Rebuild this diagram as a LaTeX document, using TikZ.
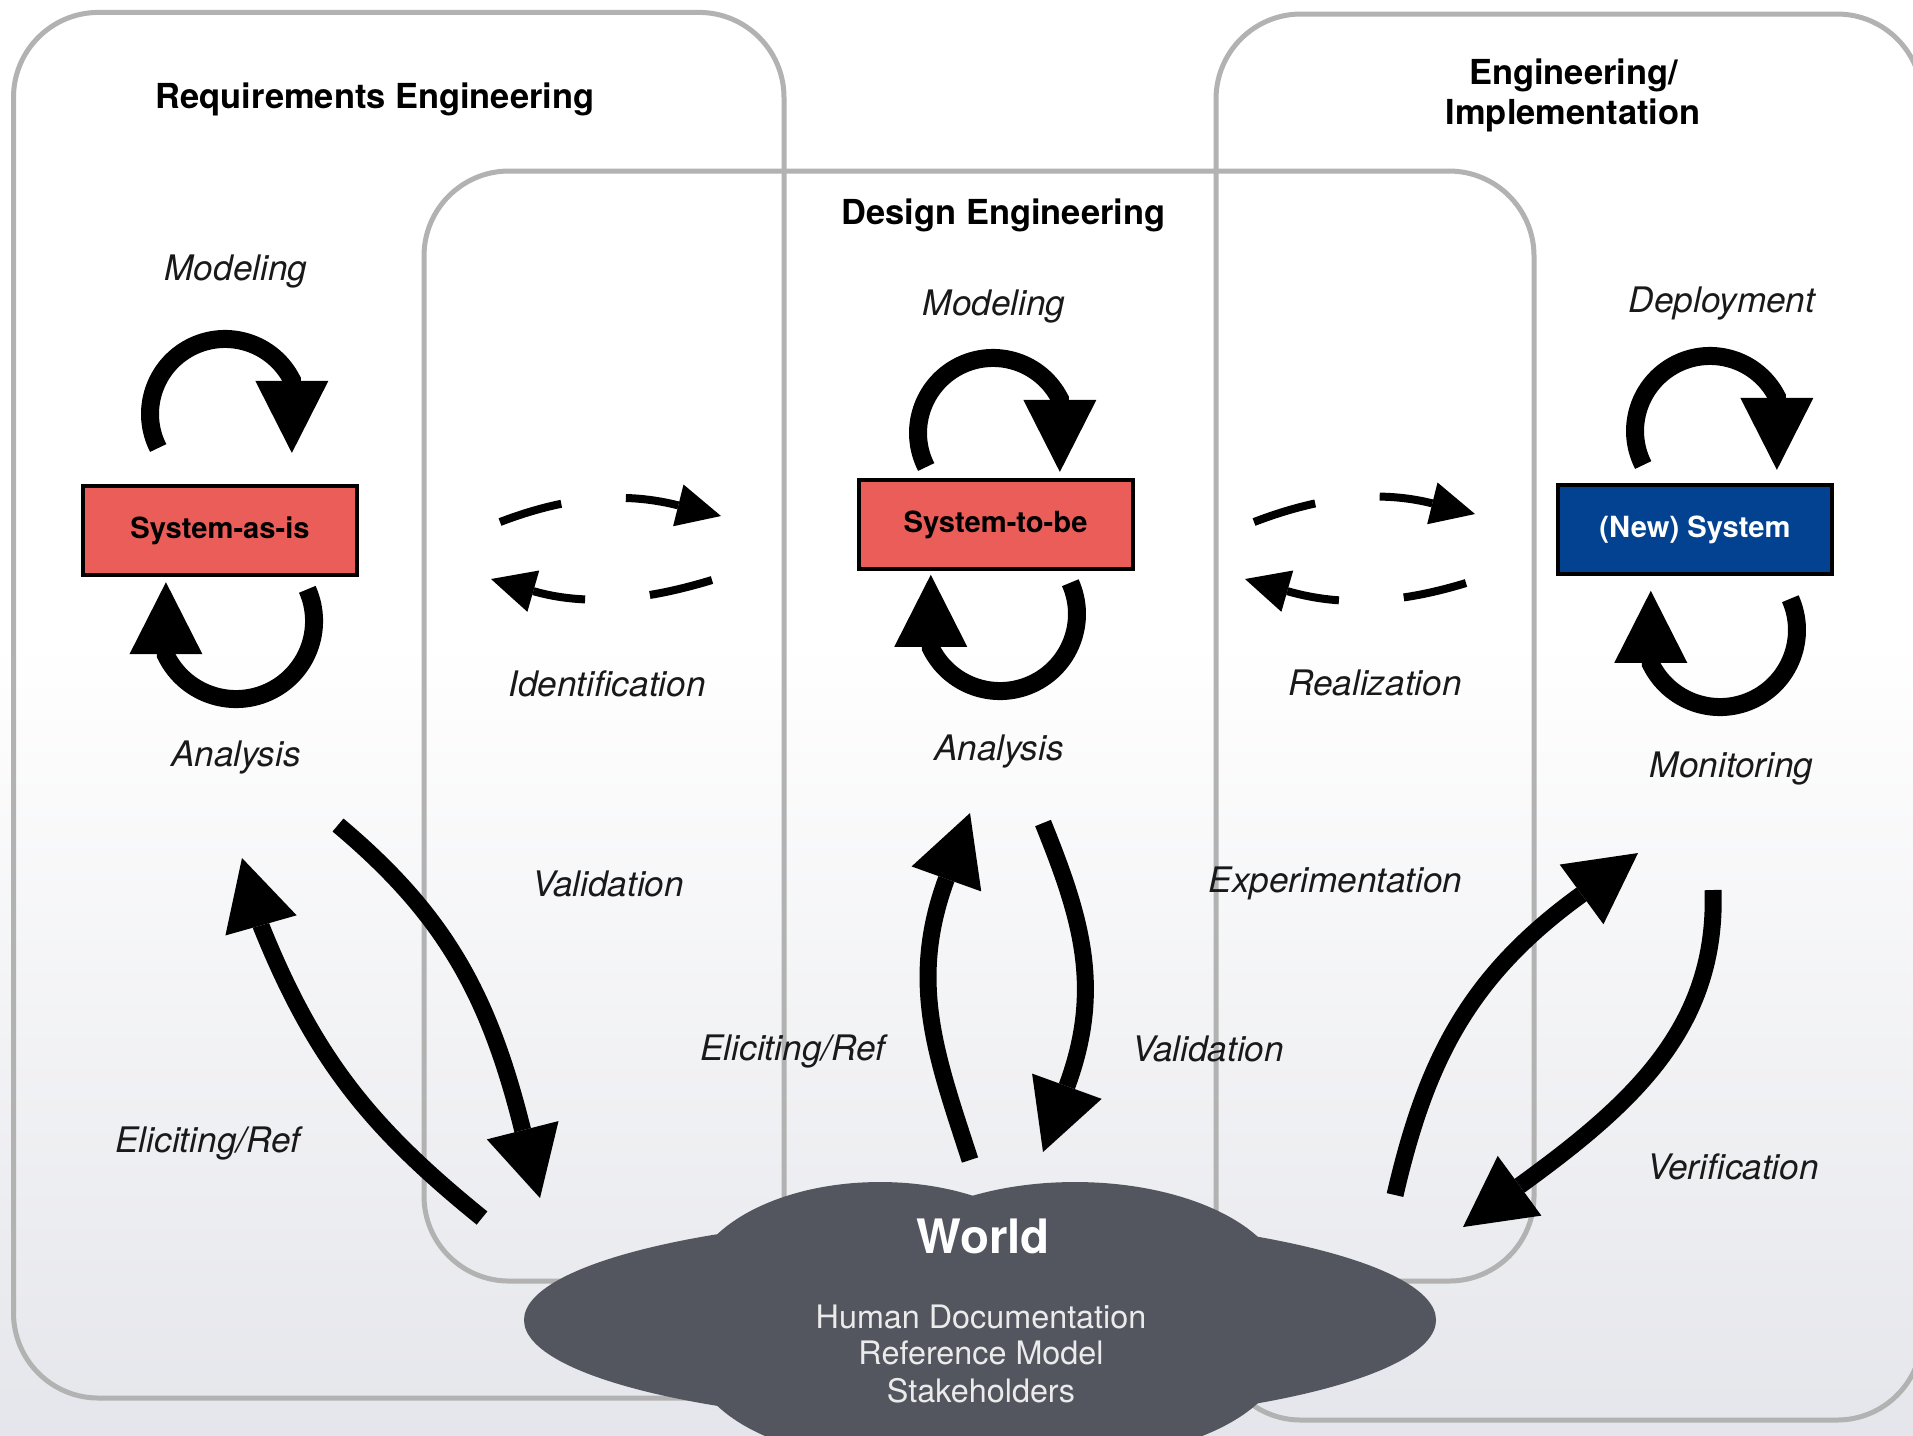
\documentclass[tikz,border=0pt]{standalone}
\usepackage{fontspec}
\setmainfont{TeX Gyre Heros}
\usetikzlibrary{arrows.meta}
\definecolor{FRAME-GRAY}{RGB}{178,178,178}
\definecolor{SYS-RED}{RGB}{234,93,89}
\definecolor{SYS-BLUE}{RGB}{2,66,145}
\definecolor{WORLD-GRAY}{RGB}{83,86,95}
\definecolor{BG-GRAY}{RGB}{229,230,235}

\begin{document}
\begin{tikzpicture}[x=0.1mm,y=0.1mm,
    phasebox/.style={draw=FRAME-GRAY,line width=0.5mm,rounded corners=8.5mm},
    phasetitle/.style={font=\bfseries\fontsize{9.8}{11.4}\selectfont,anchor=base,inner sep=0pt},
    activity/.style={font=\itshape\fontsize{10}{12}\selectfont,anchor=base,inner sep=0pt,text=black!90},
    sysbox/.style={draw=black,line width=0.4mm,minimum width=27.4mm,minimum height=8.9mm,inner sep=0pt,font=\bfseries\fontsize{8.3}{10}\selectfont},
    selfloop/.style={line width=1.8mm,-{Triangle[length=7.2mm,width=7.3mm,line width=0pt]}},
    bigarrow/.style={line width=1.7mm,-{Triangle[length=7mm,width=7.4mm,line width=0pt]}},
    dasharrow/.style={line width=0.8mm,dash pattern=on 6.4mm off 6.5mm,-{Triangle[length=4.4mm,width=4.3mm,line width=0pt]}},
    worldtext/.style={text=white!92!black,font=\fontsize{9.2}{10.7}\selectfont,anchor=base,inner sep=0pt}]

    % background
    \useasboundingbox (0,0) rectangle (1913,-1435);
    \clip (0,0) rectangle (1913,-1435);
    \fill[white] (0,0) rectangle (1913,-640);
    \shade[top color=white,bottom color=BG-GRAY] (0,-640) rectangle (1913,-1435);

    % phase frames
    \draw[phasebox] (13.5,-12.4) rectangle (784,-1398);
    \draw[phasebox] (424,-171) rectangle (1534,-1281);
    \draw[phasebox] (1216,-14) rectangle (1922,-1420);

    % phase titles
    \node[phasetitle] (reqtitle) at (375,-108) {Requirements Engineering};
    \node[phasetitle] (destitle) at (1003.5,-224) {Design Engineering};
    \node[phasetitle] (impltitle) at (1573.5,-84) {Engineering/};
    \node[phasetitle] (impltitleb) at (1573,-124) {Implementation};

    % systems
    \node[sysbox,fill=SYS-RED] (asis) at (220,-530.5) {System-as-is};
    \node[sysbox,fill=SYS-RED] (tobe) at (995.5,-524.5) {System-to-be};
    \node[sysbox,fill=SYS-BLUE,text=white] (newsys) at (1695,-529.5) {(New) System};

    % self loops
    \draw[selfloop] ([shift={(-6.18mm,8.25mm)}]asis.center) arc[start angle=207,end angle=27,radius=7.5mm] -- ++(0,-7.3mm);
    \draw[selfloop] ([shift={(8.73mm,-5.88mm)}]asis.center) arc[start angle=24,end angle=-154,radius=7.8mm] -- ++(0,7.3mm);
    \draw[selfloop] ([shift={(-6.93mm,5.75mm)}]tobe.center) arc[start angle=207,end angle=27,radius=7.5mm] -- ++(0,-7.3mm);
    \draw[selfloop] ([shift={(7.48mm,-5.82mm)}]tobe.center) arc[start angle=24,end angle=-154,radius=7.7mm] -- ++(0,7.3mm);
    \draw[selfloop] ([shift={(-5.18mm,6.45mm)}]newsys.center) arc[start angle=207,end angle=27,radius=7.5mm] -- ++(0,-7.3mm);
    \draw[selfloop] ([shift={(9.53mm,-6.92mm)}]newsys.center) arc[start angle=24,end angle=-154,radius=7.7mm] -- ++(0,7.3mm);

    % dashed hand-overs
    \coordinate (idfwdA) at (500,-522);
    \coordinate (idfwdB) at (721,-516);
    \coordinate (idbackA) at (712,-580);
    \coordinate (idbackB) at (491,-579);
    \coordinate (rlfwdA) at (1254,-522);
    \coordinate (rlfwdB) at (1475,-514);
    \coordinate (rlbackA) at (1466,-583);
    \coordinate (rlbackB) at (1245,-579);
    \draw[dasharrow] (idfwdA) to[out=21,in=166] (idfwdB);
    \draw[dasharrow] (idbackA) to[out=-163,in=-16] (idbackB);
    \draw[dasharrow] (rlfwdA) to[out=21,in=166] (rlfwdB);
    \draw[dasharrow] (rlbackA) to[out=-163,in=-16] (rlbackB);

    % world cloud
    \fill[WORLD-GRAY] (980,-1320) ellipse[x radius=45.6mm,y radius=10.5mm];
    \fill[WORLD-GRAY] (880,-1290) ellipse[x radius=19mm,y radius=10.8mm];
    \fill[WORLD-GRAY] (1075,-1290) ellipse[x radius=21mm,y radius=10.8mm];
    \fill[WORLD-GRAY] (880,-1350) ellipse[x radius=19mm,y radius=10.8mm];
    \fill[WORLD-GRAY] (1075,-1350) ellipse[x radius=21mm,y radius=10.8mm];
    \node[font=\bfseries\fontsize{13.5}{15}\selectfont,text=white,anchor=base,inner sep=0pt] (world) at (983,-1253) {World};
    \node[worldtext] (human) at (981,-1328) {Human Documentation};
    \node[worldtext] (refmodel) at (981,-1364) {Reference Model};
    \node[worldtext] (stake) at (981,-1402) {Stakeholders};

    % activities
    \node[activity] (modreq) at (236,-280) {Modeling};
    \node[activity] (anareq) at (236,-766) {Analysis};
    \node[activity] (ident) at (607,-696) {Identification};
    \node[activity] (valreq) at (608,-896) {Validation};
    \node[activity] (elireq) at (208,-1152) {Eliciting/Ref};
    \node[activity] (moddes) at (994,-315) {Modeling};
    \node[activity] (anades) at (999,-760) {Analysis};
    \node[activity] (elides) at (793,-1060) {Eliciting/Ref};
    \node[activity] (valdes) at (1208,-1061) {Validation};
    \node[activity] (realiz) at (1375,-695) {Realization};
    \node[activity] (experi) at (1335.5,-892) {Experimentation};
    \node[activity] (deploy) at (1722,-312) {Deployment};
    \node[activity] (monit) at (1731.5,-777) {Monitoring};
    \node[activity] (verif) at (1733,-1179) {Verification};

    % world arrows (curve to the tip base, then the tip)
    \coordinate (wReqA) at (482,-1218);
    \coordinate (reqInB) at (261.5,-927);
    \coordinate (reqIn) at (242,-858);
    \coordinate (reqOut) at (338,-825);
    \coordinate (wReqBB) at (522.5,-1129.5);
    \coordinate (wReqB) at (540,-1198);
    \coordinate (wDesA) at (970,-1160);
    \coordinate (desInB) at (946,-880);
    \coordinate (desIn) at (970,-813);
    \coordinate (desOut) at (1043,-823);
    \coordinate (wDesBB) at (1067.5,-1084.5);
    \coordinate (wDesB) at (1043,-1152);
    \coordinate (wImpA) at (1395,-1195);
    \coordinate (impInB) at (1580,-895.5);
    \coordinate (impIn) at (1638,-853);
    \coordinate (impOut) at (1713,-890);
    \coordinate (wImpBB) at (1520.5,-1185);
    \coordinate (wImpB) at (1463,-1227);
    \draw[bigarrow] (wReqA) to[out=141,in=-68] (reqInB) -- (reqIn);
    \draw[bigarrow] (reqOut) to[out=-40,in=104] (wReqBB) -- (wReqB);
    \draw[bigarrow] (wDesA) to[out=108,in=-110] (desInB) -- (desIn);
    \draw[bigarrow] (desOut) to[out=-68,in=70] (wDesBB) -- (wDesB);
    \draw[bigarrow] (wImpA) to[out=77,in=-144] (impInB) -- (impIn);
    \draw[bigarrow] (impOut) to[out=-88,in=36] (wImpBB) -- (wImpB);
\end{tikzpicture}
\end{document}
